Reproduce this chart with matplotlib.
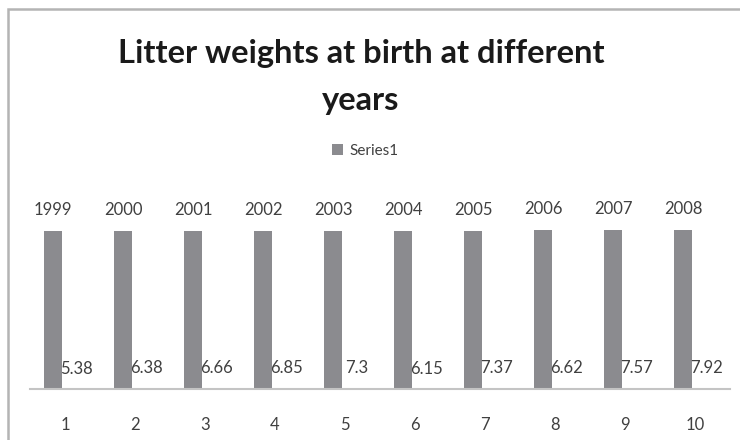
import matplotlib
matplotlib.use("Agg")
import matplotlib.pyplot as plt
from matplotlib.patches import Rectangle

# ---------------- DATOS ----------------
categorias = ["1", "2", "3", "4", "5", "6", "7", "8", "9", "10"]
anios = [1999, 2000, 2001, 2002, 2003, 2004, 2005, 2006, 2007, 2008]
pesos = [5.38, 6.38, 6.66, 6.85, 7.3, 6.15, 7.37, 6.62, 7.57, 7.92]

TITULO = "Litter weights at birth at different\nyears"
LEYENDA = "Series1"

COLOR_BARRA = "#8b8b8f"
COLOR_TEXTO = "#404040"
FUENTE = "Lato"

W, H, DPI = 740, 440, 100
fig = plt.figure(figsize=(W / DPI, H / DPI), dpi=DPI)
fig.patch.set_facecolor("white")

# area de trazado en pixeles: base en y=389, eje x de 30 a 730
ymax = 2500
alto_px = ymax * 158 / anios[0]
ax = fig.add_axes([30 / W, (H - 389) / H, 700 / W, alto_px / H])

x = list(range(len(categorias)))
desp, ancho = 0.171, 0.257
b1 = ax.bar([i - desp for i in x], anios, width=ancho, color=COLOR_BARRA, label=LEYENDA)
b2 = ax.bar([i + desp for i in x], pesos, width=ancho, color=COLOR_BARRA)

for r, v in zip(b1, anios):
    ax.annotate(str(v), (r.get_x() + r.get_width() / 2, r.get_height()),
                xytext=(0, 21), textcoords="offset pixels", ha="center", va="center",
                fontsize=12, color=COLOR_TEXTO, family=FUENTE)
for r, v in zip(b2, pesos):
    ax.annotate(f"{v:g}", (r.get_x() + r.get_width() / 2, r.get_height()),
                xytext=(0, 20), textcoords="offset pixels", ha="center", va="center",
                fontsize=12, color=COLOR_TEXTO, family=FUENTE)

ax.set_xlim(-0.5, len(categorias) - 0.5)
ax.set_ylim(0, ymax)
ax.set_yticks([])
ax.set_xticks(x)
ax.set_xticklabels(categorias, fontsize=12, color=COLOR_TEXTO, family=FUENTE)
ax.tick_params(axis="x", length=0, pad=20)
for s in ["top", "right", "left"]:
    ax.spines[s].set_visible(False)
ax.spines["bottom"].set_color("#c4c4c4")
ax.spines["bottom"].set_linewidth(1.5)

fig.text(361 / W, 1 - 77 / H, TITULO, ha="center", va="center", fontsize=23.5,
         fontweight="bold", color="#1a1a1a", family=FUENTE, linespacing=1.72)

fig.legend(handles=[b1], loc="center", bbox_to_anchor=(365 / W, 1 - 151 / H),
           frameon=False, prop={"family": FUENTE, "size": 11}, labelcolor=COLOR_TEXTO,
           handlelength=0.75, handleheight=0.75, handletextpad=0.4)

# marco del grafico
fig.add_artist(Rectangle((8 / W, -0.1), 1.0, 1.1 - 9 / H, transform=fig.transFigure,
                         fill=False, edgecolor="#b4b4b4", linewidth=1.8))

fig.savefig("out.png", dpi=DPI)
